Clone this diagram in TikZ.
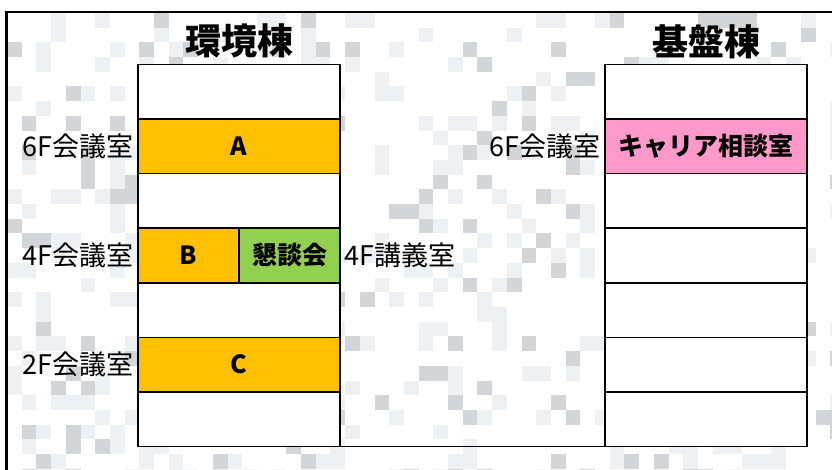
\documentclass[tikz,border=0pt]{standalone}
\usepackage{fontspec}
\setmainfont{Noto Sans CJK JP}
\usetikzlibrary{positioning}

\definecolor{kaigi}{HTML}{FFC000}
\definecolor{kondan}{HTML}{92D050}
\definecolor{career}{HTML}{FF99CC}
\definecolor{checkdark}{HTML}{D2D6D8}
\definecolor{checklight}{HTML}{EEF1F4}

\begin{document}
\begin{tikzpicture}[x=1pt,y=-1pt,
  room/.style={draw,rectangle,line width=1.5pt,minimum width=202pt,minimum height=54.5pt,inner sep=0pt,outer sep=0pt,fill=white,font=\bfseries\fontsize{25}{25}\selectfont},
  halfroom/.style={room,minimum width=101pt},
  floor/.style={inner sep=1pt,font=\fontsize{27}{27}\selectfont},
  title/.style={inner sep=0pt,font=\bfseries\fontsize{36}{36}\selectfont}]
\useasboundingbox (0,0) rectangle (832,470);
% background
\fill[white] (0,0) rectangle (832,470);
\begin{scope}
\clip (6,12) rectangle (832,470);
\pgfmathsetseed{11}
\foreach \i in {0,...,56}{\foreach \j in {0,...,31}{
  \pgfmathtruncatemacro\shade{rnd<0.09 ? 2 : (rnd<0.2 ? 1 : 0)}
  \ifnum\shade=2 \fill[checkdark] (7+14.7*\i,13+14.7*\j) rectangle ++(14.7,14.7);\fi
  \ifnum\shade=1 \fill[checklight] (7+14.7*\i,13+14.7*\j) rectangle ++(14.7,14.7);\fi
}}
\end{scope}
% frame
\draw[line width=3pt] (6,470) -- (6,12.5);
\draw[line width=2pt] (4.5,12.5) -- (832,12.5);
% 環境棟
\node[room] (kankyo-r1) at (239,92) {};
\node[room, below=0pt of kankyo-r1, fill=kaigi] (kankyo-r2) {A};
\node[room, below=0pt of kankyo-r2] (kankyo-r3) {};
\node[halfroom, below right=0pt and 0pt of kankyo-r3.south west, fill=kaigi] (kankyo-r4a) {B};
\node[halfroom, right=0pt of kankyo-r4a, fill=kondan] (kankyo-r4b) {懇談会};
\node[room, below right=0pt and 0pt of kankyo-r4a.south west] (kankyo-r5) {};
\node[room, below=0pt of kankyo-r5, fill=kaigi] (kankyo-r6) {C};
\node[room, below=0pt of kankyo-r6] (kankyo-r7) {};
\node[title, above=6pt of kankyo-r1] {環境棟};
% 基盤棟
\node[room] (kiban-r1) at (706,92) {};
\node[room, below=0pt of kiban-r1, fill=career] (kiban-r2) {キャリア相談室};
\node[room, below=0pt of kiban-r2] (kiban-r3) {};
\node[room, below=0pt of kiban-r3] (kiban-r4) {};
\node[room, below=0pt of kiban-r4] (kiban-r5) {};
\node[room, below=0pt of kiban-r5] (kiban-r6) {};
\node[room, below=0pt of kiban-r6] (kiban-r7) {};
\node[title, above=6pt of kiban-r1] {基盤棟};
% floors
\node[floor, left=3pt of kankyo-r2] (f6-kankyo) {6F会議室};
\node[floor, left=3pt of kankyo-r4a] (f4-kankyo) {4F会議室};
\node[floor, left=3pt of kankyo-r6] (f2-kankyo) {2F会議室};
\node[floor, right=3pt of kankyo-r4b] (f4-kougi) {4F講義室};
\node[floor, left=3pt of kiban-r2] (f6-kiban) {6F会議室};
% ground line
\draw[line width=1.5pt] (kankyo-r7.south west) -- (kiban-r7.south east);
\end{tikzpicture}
\end{document}
